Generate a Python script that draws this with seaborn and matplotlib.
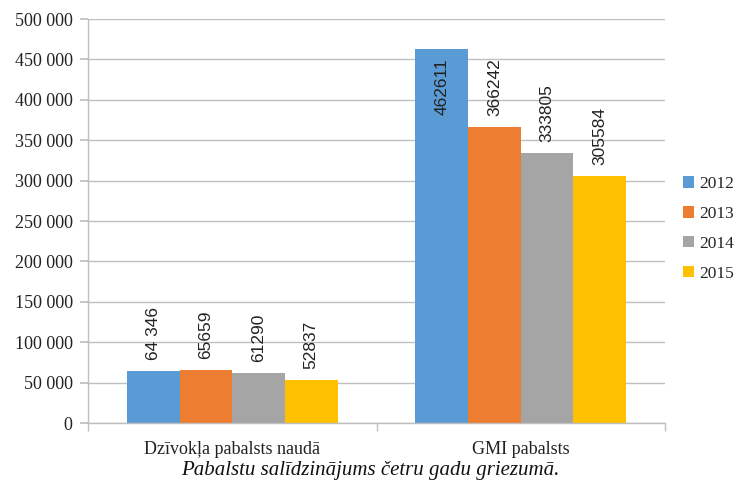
import numpy as np
import pandas as pd
import matplotlib
matplotlib.use("Agg")
import matplotlib.pyplot as plt
from matplotlib.ticker import FuncFormatter, MultipleLocator, FixedLocator
from matplotlib.patches import Patch
import seaborn as sns

categories = ["Dzīvokļa pabalsts naudā", "GMI pabalsts"]
years = ["2012", "2013", "2014", "2015"]
values_2012 = [64346, 462611]
values_2013 = [65659, 366242]
values_2014 = [61290, 333805]
values_2015 = [52837, 305584]
labels_2012 = ["64 346", "462611"]
labels_2013 = ["65659", "366242"]
labels_2014 = ["61290", "333805"]
labels_2015 = ["52837", "305584"]
colors = ["#5B9BD5", "#ED7D31", "#A5A5A5", "#FFC000"]
caption = "Pabalstu salīdzinājums četru gadu griezumā."

series = [values_2012, values_2013, values_2014, values_2015]
series_labels = [labels_2012, labels_2013, labels_2014, labels_2015]
rows = []
for y, vals in zip(years, series):
    for c, v in zip(categories, vals):
        rows.append({"cat": c, "year": y, "value": v})
df = pd.DataFrame(rows)

sns.set_theme(style="white")
plt.rcParams["font.family"] = ["Liberation Serif", "DejaVu Serif"]

fig = plt.figure(figsize=(7.4, 4.83), dpi=100)
ax = fig.add_axes([88/740, 1-423/483, (665-88)/740, (423-19)/483])

sns.barplot(data=df, x="cat", y="value", hue="year", order=categories,
            hue_order=years, palette=colors, width=0.73, saturation=1,
            ax=ax, legend=False, errorbar=None, edgecolor="none", linewidth=0)

ax.set_ylim(0, 500000)
ax.set_xlim(-0.5, 1.5)
ax.yaxis.set_major_locator(MultipleLocator(50000))
ax.yaxis.set_major_formatter(FuncFormatter(lambda v, p: f"{int(v):,}".replace(",", " ")))
gridc = "#BFBFBF"
ax.grid(axis="y", color=gridc, linewidth=1.0)
ax.set_axisbelow(True)
for s in ["top", "right"]:
    ax.spines[s].set_visible(False)
ax.spines["left"].set_color(gridc)
ax.spines["bottom"].set_color(gridc)
ax.spines["left"].set_linewidth(1.0)
ax.spines["bottom"].set_linewidth(1.0)
ax.tick_params(axis="y", length=6, color=gridc, pad=5, labelsize=13, left=True)
ax.tick_params(axis="x", which="major", length=0, pad=13, labelsize=13)
ax.xaxis.set_minor_locator(FixedLocator([-0.5, 0.5, 1.5]))
ax.tick_params(axis="x", which="minor", length=6, color=gridc, bottom=True)
ax.set_xlabel("")
ax.set_ylabel("")
for t in ax.get_yticklabels() + ax.get_xticklabels():
    t.set_color("#222222")

# data labels
for cont, labs in zip(ax.containers, series_labels):
    for patch, lab in zip(cont.patches, labs):
        x = patch.get_x() + patch.get_width() / 2
        h = patch.get_height()
        if h > 400000:
            ax.annotate(lab, (x, h), xytext=(0, -9), textcoords="offset pixels",
                        rotation=90, ha="center", va="top", fontsize=12.5,
                        family=["Liberation Sans", "DejaVu Sans"], color="#222222")
        else:
            ax.annotate(lab, (x, h), xytext=(0, 11), textcoords="offset pixels",
                        rotation=90, ha="center", va="bottom", fontsize=12.5,
                        family=["Liberation Sans", "DejaVu Sans"], color="#222222")

handles = [Patch(facecolor=c, edgecolor="none") for c in colors]
leg = ax.legend(handles, years, loc="upper left", bbox_to_anchor=(683/740, 1-176/483),
                bbox_transform=fig.transFigure, frameon=False, fontsize=12.5,
                handlelength=0.65, handleheight=0.65, handletextpad=0.3,
                labelspacing=0.8, borderaxespad=0, borderpad=0)

fig.text(0.5, 1-471/483, caption, ha="center", va="center", fontsize=15,
         style="italic", color="#111111")

fig.savefig("out.png", dpi=100)
